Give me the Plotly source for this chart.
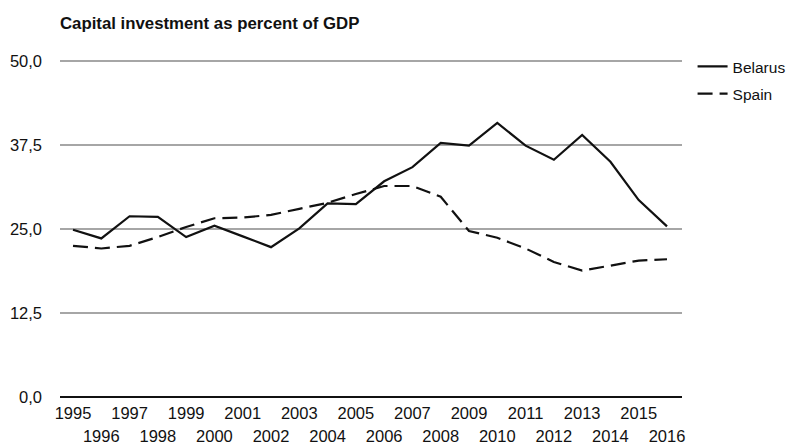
import plotly.graph_objects as go

years = list(range(1995, 2017))
belarus = [24.9, 23.6, 26.9, 26.8, 23.8, 25.5, 23.9, 22.3, 25.1, 28.8, 28.7, 32.1,
           34.2, 37.8, 37.4, 40.8, 37.4, 35.3, 39.0, 35.0, 29.3, 25.4]
spain = [22.5, 22.1, 22.5, 23.8, 25.3, 26.6, 26.7, 27.1, 28.0, 28.9, 30.2, 31.4,
         31.4, 29.8, 24.7, 23.7, 22.1, 20.1, 18.8, 19.6, 20.3, 20.5]
y_ticks = [0, 12.5, 25, 37.5, 50]
odd_years = [y for y in years if y % 2 == 1]
even_years = [y for y in years if y % 2 == 0]

font = "Liberation Sans, Arial, sans-serif"

W, H = 788, 438
fig = go.Figure()
fig.add_trace(go.Scatter(x=years, y=belarus, name="Belarus", mode="lines",
                         legendgroup="a",
                         line=dict(color="#111111", width=2.2)))
fig.add_trace(go.Scatter(x=years, y=spain, name="Spain", mode="lines",
                         xaxis="x2", legendgroup="b",
                         line=dict(color="#111111", width=2.2, dash="15px,7px")))

xr = [1994.54, 2016.53]
fig.update_layout(
    width=W, height=H,
    margin=dict(l=52, r=114, t=52, b=49, autoexpand=False),
    paper_bgcolor="white", plot_bgcolor="white",
    separators=",.",
    font=dict(family=font, size=16, color="#111111"),
    title=dict(text="<b>Capital investment as percent of GDP</b>",
               x=52 / W, xanchor="left", y=1 - 15 / H, yanchor="middle",
               font=dict(size=16.8, family=font, color="#111111")),
    showlegend=True,
    legend=dict(x=1.017, xanchor="left", y=1.03, yanchor="top",
                font=dict(size=15.5), tracegroupgap=4, bgcolor="rgba(0,0,0,0)"),
    xaxis=dict(range=xr, tickmode="array", tickvals=odd_years,
               ticktext=[str(y) for y in odd_years], showgrid=False,
               showline=False, zeroline=False, ticks="", ticklabelstandoff=4,
               tickfont=dict(size=16.5), automargin=False),
    xaxis2=dict(range=xr, overlaying="x", side="bottom", tickmode="array",
                tickvals=even_years, ticktext=[str(y) for y in even_years],
                showgrid=False, showline=False, zeroline=False, ticks="",
                ticklabelstandoff=27, tickfont=dict(size=16.5), matches="x",
                automargin=False),
    yaxis=dict(range=[0, 50.15], tickmode="array", tickvals=y_ticks,
               tickformat=".1f", showgrid=True, gridcolor="#a6a6a6", gridwidth=1.5,
               zeroline=True, zerolinecolor="#111111", zerolinewidth=2,
               showline=False, ticks="", ticklabelstandoff=17,
               tickfont=dict(size=16.5), automargin=False),
)

fig.write_html("out.html")
